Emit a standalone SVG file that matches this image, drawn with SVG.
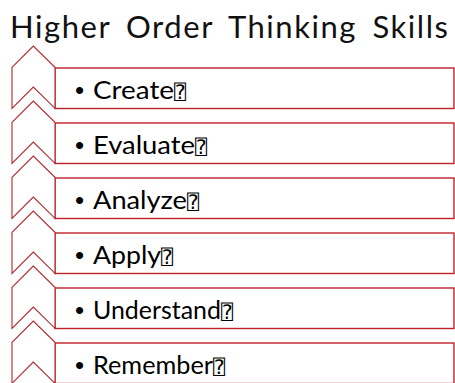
<svg xmlns="http://www.w3.org/2000/svg" width="455" height="383" viewBox="0 0 455 383">
<style>
.bg{fill:#ffffff}
.box{fill:#ffffff;stroke:#C0202A;stroke-width:1.4}
.chev{fill:#ffffff;stroke:#B3262C;stroke-width:1.1;stroke-linejoin:miter}
.title{font-family:Lato,"Liberation Sans",sans-serif;font-size:31px;font-weight:400;word-spacing:6px;fill:#111111}
.bul{font-family:"Liberation Sans",sans-serif;font-size:26px;fill:#000000}
.lbl{font-family:Lato,"Liberation Sans",sans-serif;font-size:24.5px;fill:#000000}
.tofu{font-family:"DejaVu Sans Mono","DejaVu Sans",monospace;font-size:20px;fill:#000000}
</style>
<defs>
<path id="chevron" d="M12,67.3 L33.3,46 L55,67.3 L55,108.3 L33.3,87 L12,108.3 Z"/>
</defs>
<rect class="bg" x="0" y="0" width="455" height="383"/>
<text class="title" x="10" y="38" textLength="438" lengthAdjust="spacing">Higher Order Thinking Skills</text>
<g id="node-create">
<rect class="box" x="55" y="68" width="399" height="40.5"/>
<use href="#chevron" class="chev"/>
<text class="bul" x="75" y="99.3">•</text>
<text class="lbl" x="93" y="99.3" textLength="81" lengthAdjust="spacingAndGlyphs">Create</text>
<text class="tofu" x="174" y="99.3">⍰</text>
</g>
<g id="node-evaluate" transform="translate(0,55)">
<rect class="box" x="55" y="68" width="399" height="40.5"/>
<use href="#chevron" class="chev"/>
<text class="bul" x="75" y="99.3">•</text>
<text class="lbl" x="93" y="99.3" textLength="102" lengthAdjust="spacingAndGlyphs">Evaluate</text>
<text class="tofu" x="195" y="99.3">⍰</text>
</g>
<g id="node-analyze" transform="translate(0,110)">
<rect class="box" x="55" y="68" width="399" height="40.5"/>
<use href="#chevron" class="chev"/>
<text class="bul" x="75" y="99.3">•</text>
<text class="lbl" x="93" y="99.3" textLength="94" lengthAdjust="spacingAndGlyphs">Analyze</text>
<text class="tofu" x="187" y="99.3">⍰</text>
</g>
<g id="node-apply" transform="translate(0,165)">
<rect class="box" x="55" y="68" width="399" height="40.5"/>
<use href="#chevron" class="chev"/>
<text class="bul" x="75" y="99.3">•</text>
<text class="lbl" x="93" y="99.3" textLength="68" lengthAdjust="spacingAndGlyphs">Apply</text>
<text class="tofu" x="161" y="99.3">⍰</text>
</g>
<g id="node-understand" transform="translate(0,220)">
<rect class="box" x="55" y="68" width="399" height="40.5"/>
<use href="#chevron" class="chev"/>
<text class="bul" x="75" y="99.3">•</text>
<text class="lbl" x="93" y="99.3" textLength="128" lengthAdjust="spacingAndGlyphs">Understand</text>
<text class="tofu" x="221" y="99.3">⍰</text>
</g>
<g id="node-remember" transform="translate(0,275)">
<rect class="box" x="55" y="68" width="399" height="40.5"/>
<use href="#chevron" class="chev"/>
<text class="bul" x="75" y="99.3">•</text>
<text class="lbl" x="93" y="99.3" textLength="120" lengthAdjust="spacingAndGlyphs">Remember</text>
<text class="tofu" x="213" y="99.3">⍰</text>
</g>
</svg>
